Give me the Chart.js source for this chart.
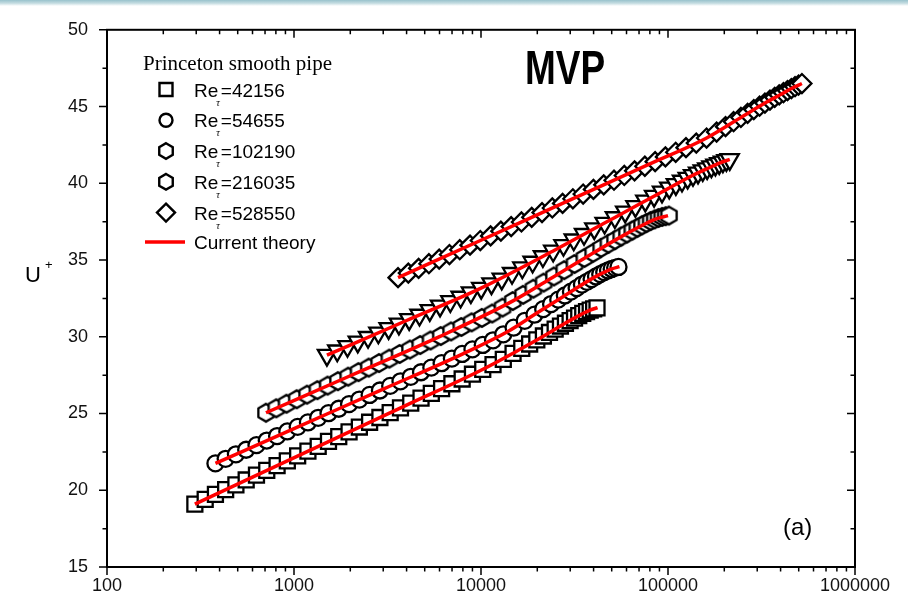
<!DOCTYPE html>
<html>
<head>
<meta charset="utf-8">
<script src="https://cdn.jsdelivr.net/npm/chart.js@4.4.1/dist/chart.umd.min.js"></script>
<style>
  html, body { margin: 0; padding: 0; background: #fff; }
  #wrap { position: relative; width: 908px; height: 608px; }
  #band { position: absolute; left: 0; top: 0; width: 908px; height: 6px;
          background: linear-gradient(to bottom, #98c2cc 0%, #c6dde2 55%, #ffffff 100%); }
  canvas { position: absolute; left: 0; top: 0; }
</style>
</head>
<body>
<div id="wrap">
  <canvas id="chartMvp" width="908" height="608"></canvas>
  <div id="band"></div>
</div>
<script>
// Princeton superpipe, smooth wall: mean velocity U+ against wall distance y+
const reTau = [42156, 54655, 102190, 216035, 528550];

const yPlus1 = [295, 335, 380, 431, 489, 555, 630, 715, 812, 921, 1046, 1187, 1347, 1529, 1735, 1970,
  2236, 2537, 2880, 3268, 3710, 4210, 4779, 5424, 6156, 6987, 7930, 9001, 10216, 11595, 13160,
  14840, 16520, 18200, 19880, 21560, 23240, 24920, 26600, 28280, 29960, 31640, 33320, 35000,
  36680, 38360, 40040, 41720];
const uPlus1 = [19.10, 19.41, 19.73, 20.04, 20.35, 20.67, 20.98, 21.29, 21.61, 21.92, 22.24, 22.55,
  22.86, 23.18, 23.49, 23.80, 24.12, 24.43, 24.74, 25.06, 25.37, 25.68, 26.00, 26.31, 26.62, 26.94,
  27.25, 27.56, 27.88, 28.19, 28.53, 28.92, 29.24, 29.53, 29.80, 30.05, 30.28, 30.50, 30.70, 30.88,
  31.05, 31.22, 31.38, 31.52, 31.64, 31.74, 31.82, 31.88];

const yPlus2 = [380, 431, 489, 555, 630, 715, 812, 921, 1046, 1187, 1347, 1529, 1735, 1970, 2236,
  2537, 2880, 3268, 3710, 4210, 4779, 5424, 6156, 6987, 7930, 9001, 10216, 11595, 13160, 14940,
  17130, 19320, 21510, 23700, 25890, 28080, 30270, 32460, 34650, 36840, 39030, 41220, 43410,
  45600, 47790, 49980, 52170, 54360];
const uPlus2 = [21.75, 22.05, 22.34, 22.64, 22.94, 23.24, 23.53, 23.83, 24.13, 24.42, 24.72, 25.02,
  25.31, 25.61, 25.91, 26.21, 26.50, 26.80, 27.10, 27.39, 27.69, 27.99, 28.28, 28.58, 28.88, 29.18,
  29.47, 29.77, 30.16, 30.59, 31.04, 31.44, 31.80, 32.13, 32.42, 32.69, 32.94, 33.17, 33.40, 33.58,
  33.76, 33.93, 34.08, 34.21, 34.32, 34.42, 34.49, 34.55];

const yPlus3 = [708, 804, 912, 1035, 1175, 1334, 1514, 1718, 1950, 2213, 2512, 2851, 3236, 3673,
  4169, 4732, 5371, 6096, 6919, 7853, 8913, 10116, 11482, 13032, 14791, 16788, 19054, 21626,
  24546, 27860, 31621, 35700, 39800, 43900, 48000, 52100, 56200, 60300, 64400, 68500, 72600,
  76700, 80800, 84900, 89000, 93100, 97200, 101300];
const uPlus3 = [25.05, 25.34, 25.64, 25.93, 26.23, 26.52, 26.82, 27.11, 27.40, 27.70, 27.99, 28.29,
  28.58, 28.88, 29.17, 29.46, 29.76, 30.05, 30.35, 30.64, 30.94, 31.23, 31.52, 31.90, 32.33, 32.73,
  33.13, 33.53, 33.93, 34.34, 34.74, 35.13, 35.47, 35.79, 36.06, 36.30, 36.53, 36.73, 36.92, 37.10,
  37.26, 37.41, 37.54, 37.65, 37.74, 37.81, 37.86, 37.90];

const yPlus4 = [1500, 1703, 1932, 2193, 2489, 2825, 3206, 3639, 4130, 4688, 5321, 6039, 6854, 7779,
  8830, 10022, 11375, 12911, 14654, 16632, 18877, 21425, 24318, 27601, 31327, 35556, 40356, 45804,
  51987, 59005, 66970, 75610, 84250, 92890, 101530, 110170, 118810, 127450, 136090, 144730,
  153370, 162010, 170650, 179290, 187930, 196570, 205210, 213850];
const uPlus4 = [28.80, 29.09, 29.38, 29.67, 29.97, 30.26, 30.55, 30.84, 31.13, 31.42, 31.72, 32.01,
  32.30, 32.59, 32.88, 33.17, 33.46, 33.77, 34.14, 34.50, 34.87, 35.23, 35.59, 35.96, 36.32, 36.68,
  37.05, 37.41, 37.77, 38.14, 38.50, 38.85, 39.16, 39.44, 39.70, 39.93, 40.15, 40.34, 40.52, 40.68,
  40.83, 40.96, 41.08, 41.20, 41.30, 41.40, 41.49, 41.56];

const yPlus5 = [3600, 4086, 4638, 5264, 5975, 6781, 7697, 8736, 9915, 11254, 12773, 14497, 16454,
  18676, 21197, 24059, 27307, 30993, 35177, 39926, 45316, 51433, 58377, 66258, 75203, 85355, 96878,
  109957, 124801, 141649, 160772, 181910, 203050, 224190, 245330, 266470, 287610, 308750, 329890,
  351030, 372170, 393310, 414450, 435590, 456730, 477870, 499010, 520150];
const uPlus5 = [33.85, 34.15, 34.46, 34.76, 35.06, 35.36, 35.67, 35.97, 36.27, 36.57, 36.88, 37.18,
  37.48, 37.78, 38.09, 38.39, 38.69, 38.99, 39.30, 39.60, 39.90, 40.20, 40.51, 40.81, 41.11, 41.41,
  41.72, 42.02, 42.32, 42.62, 42.95, 43.34, 43.69, 44.01, 44.29, 44.56, 44.80, 45.02, 45.23, 45.42,
  45.60, 45.76, 45.90, 46.04, 46.17, 46.29, 46.40, 46.50];

// current theory, one curve per Re_tau
const theoryY1 = [295, 600, 1500, 4000, 10000, 16000, 22000, 28000, 34000, 38000, 42000];
const theoryU1 = [19.10, 20.86, 23.12, 25.55, 27.82, 29.15, 30.10, 30.87, 31.43, 31.72, 31.90];
const theoryY2 = [380, 1000, 3000, 8000, 14000, 20000, 26000, 32000, 38000, 44000, 50000, 55000];
const theoryU2 = [21.75, 24.02, 26.59, 28.89, 30.36, 31.56, 32.43, 33.13, 33.69, 34.11, 34.42, 34.57];
const theoryY3 = [708, 2000, 6000, 15000, 25000, 40000, 55000, 70000, 85000, 100000];
const theoryU3 = [25.05, 27.46, 30.01, 32.37, 33.98, 35.47, 36.46, 37.15, 37.65, 37.89];
const theoryY4 = [1500, 4000, 10000, 25000, 45000, 70000, 100000, 130000, 160000, 190000, 214000];
const theoryU4 = [28.80, 31.06, 33.17, 35.67, 37.36, 38.63, 39.65, 40.40, 40.92, 41.33, 41.56];
const theoryY5 = [3600, 10000, 30000, 80000, 160000, 250000, 330000, 400000, 460000, 520000];
const theoryU5 = [33.85, 36.29, 38.92, 41.26, 42.93, 44.35, 45.23, 45.78, 46.19, 46.50];

const xTicks = [100, 1000, 10000, 100000, 1000000];
const yTicks = [15, 20, 25, 30, 35, 40, 45, 50];

const sansFont = '"Liberation Sans", Arial, sans-serif';
const serifFont = '"Liberation Serif", "Times New Roman", serif';

const pts = (xs, ys) => xs.map((x, i) => ({ x: x, y: ys[i] }));

function hexPath(g, cx, cy, r) {
  g.beginPath();
  for (let k = 0; k < 6; k++) {
    const a = Math.PI / 180 * (60 * k - 90);
    const px = cx + r * Math.cos(a), py = cy + r * Math.sin(a);
    if (k) g.lineTo(px, py); else g.moveTo(px, py);
  }
  g.closePath();
}

function hexagonMarker(r, lw) {
  const c = document.createElement('canvas');
  const s = Math.ceil(2 * r + lw + 2);
  c.width = s; c.height = s;
  const g = c.getContext('2d');
  hexPath(g, s / 2, s / 2, r);
  g.fillStyle = '#fff'; g.fill();
  g.lineWidth = lw; g.strokeStyle = '#000'; g.stroke();
  return c;
}

const markerBase = {
  showLine: false, pointBackgroundColor: '#fff', pointBorderColor: '#000',
  pointBorderWidth: 2.3, pointHoverRadius: 0, order: 1
};
const theoryBase = {
  showLine: true, borderColor: '#ff0000', backgroundColor: '#ff0000', borderWidth: 3.5,
  pointRadius: 0, pointHoverRadius: 0, fill: false, cubicInterpolationMode: 'monotone', order: 0
};

const legendRows = [
  { symbol: 'square', value: reTau[0] },
  { symbol: 'circle', value: reTau[1] },
  { symbol: 'hexagon', value: reTau[2] },
  { symbol: 'hexagon', value: reTau[3] },
  { symbol: 'diamond', value: reTau[4] }
];

function drawSymbol(ctx, kind, x, y) {
  ctx.save();
  ctx.lineWidth = 2.4; ctx.strokeStyle = '#000'; ctx.fillStyle = '#fff';
  ctx.beginPath();
  if (kind === 'square') ctx.rect(x - 6.5, y - 6.5, 13, 13);
  else if (kind === 'circle') ctx.arc(x, y, 6.5, 0, Math.PI * 2);
  else if (kind === 'hexagon') hexPath(ctx, x, y, 7.8);
  else if (kind === 'diamond') {
    ctx.moveTo(x, y - 9); ctx.lineTo(x + 9, y); ctx.lineTo(x, y + 9); ctx.lineTo(x - 9, y); ctx.closePath();
  }
  ctx.fill(); ctx.stroke();
  ctx.restore();
}

// box, inward/outward tick marks and the minor ticks
const frameTicks = {
  id: 'frameTicks',
  afterDraw(chart) {
    const { ctx, chartArea: a, scales: { x, y } } = chart;
    ctx.save();
    ctx.strokeStyle = '#000';
    ctx.lineWidth = 2;
    ctx.strokeRect(a.left, a.top, a.right - a.left, a.bottom - a.top);
    ctx.lineWidth = 1.5;
    ctx.beginPath();
    for (let d = 100; d <= 1000000; d *= 10) {
      for (let m = 1; m <= 9; m++) {
        const v = d * m;
        if (v > 1000000) break;
        const px = x.getPixelForValue(v);
        const len = m === 1 ? 8 : 4.5;
        ctx.moveTo(px, a.bottom); ctx.lineTo(px, a.bottom + len);
        ctx.moveTo(px, a.top); ctx.lineTo(px, a.top + len);
      }
    }
    for (let v = 15; v <= 50; v += 2.5) {
      const py = y.getPixelForValue(v);
      const len = v % 5 === 0 ? 8 : 4.5;
      ctx.moveTo(a.left - len, py); ctx.lineTo(a.left, py);
      ctx.moveTo(a.right - len, py); ctx.lineTo(a.right, py);
    }
    ctx.stroke();
    ctx.restore();
  }
};

// legend block, panel letter, MVP tag and the U+ axis title
const annotations = {
  id: 'annotations',
  afterDraw(chart) {
    const ctx = chart.ctx;
    ctx.save();
    ctx.fillStyle = '#000';
    ctx.textBaseline = 'alphabetic';

    ctx.font = '21px ' + serifFont;
    ctx.fillText('Princeton smooth pipe', 143, 70);

    const rowY = [89.5, 120.3, 151, 181.8, 212.6];
    legendRows.forEach((row, i) => {
      const cy = rowY[i];
      drawSymbol(ctx, row.symbol, 166, cy);
      ctx.font = '19px ' + sansFont;
      ctx.fillText('Re', 194, cy + 7);
      const w = ctx.measureText('Re').width;
      ctx.fillText('=' + row.value, 194 + w + 2.5, cy + 7);
      ctx.font = 'italic 10px ' + serifFont;
      ctx.fillText('\u03c4', 194 + w - 2, cy + 16);
    });

    ctx.strokeStyle = '#ff0000';
    ctx.lineWidth = 3.5;
    ctx.beginPath(); ctx.moveTo(145, 242); ctx.lineTo(185, 242); ctx.stroke();
    ctx.font = '19px ' + sansFont;
    ctx.fillText('Current theory', 194, 249);

    // condensed bold tag
    ctx.save();
    ctx.font = 'bold 49px ' + sansFont;
    const tw = ctx.measureText('MVP').width;
    ctx.translate(525, 83.5);
    ctx.scale(80 / tw, 1);
    ctx.fillText('MVP', 0, 0);
    ctx.restore();

    ctx.font = '24px ' + sansFont;
    ctx.fillText('(a)', 783, 535);

    ctx.font = '22px ' + sansFont;
    ctx.fillText('U', 25, 282);
    ctx.font = '13px ' + sansFont;
    ctx.fillText('+', 45, 269);
    ctx.restore();
  }
};

const ctx = document.getElementById('chartMvp').getContext('2d');
const mvpChart = new Chart(ctx, {
  type: 'scatter',
  data: {
    datasets: [
      Object.assign({ label: 'theory ' + reTau[0], data: pts(theoryY1, theoryU1) }, theoryBase),
      Object.assign({ label: 'theory ' + reTau[1], data: pts(theoryY2, theoryU2) }, theoryBase),
      Object.assign({ label: 'theory ' + reTau[2], data: pts(theoryY3, theoryU3) }, theoryBase),
      Object.assign({ label: 'theory ' + reTau[3], data: pts(theoryY4, theoryU4) }, theoryBase),
      Object.assign({ label: 'theory ' + reTau[4], data: pts(theoryY5, theoryU5) }, theoryBase),
      Object.assign({ label: 'Re ' + reTau[0], data: pts(yPlus1, uPlus1), pointStyle: 'rect', pointRadius: 10.6 }, markerBase),
      Object.assign({ label: 'Re ' + reTau[1], data: pts(yPlus2, uPlus2), pointStyle: 'circle', pointRadius: 8 }, markerBase),
      Object.assign({ label: 'Re ' + reTau[2], data: pts(yPlus3, uPlus3), pointStyle: hexagonMarker(8.8, 2.3), pointRadius: 8.8 }, markerBase),
      Object.assign({ label: 'Re ' + reTau[3], data: pts(yPlus4, uPlus4), pointStyle: 'triangle', pointRotation: 180, pointRadius: 10.5 }, markerBase),
      Object.assign({ label: 'Re ' + reTau[4], data: pts(yPlus5, uPlus5), pointStyle: 'rectRot', pointRadius: 9.5 }, markerBase)
    ]
  },
  options: {
    responsive: false,
    animation: false,
    events: [],
    layout: { padding: { left: 0, top: 18, right: 53, bottom: 0 } },
    plugins: { legend: { display: false }, tooltip: { enabled: false } },
    scales: {
      x: {
        type: 'logarithmic', min: 100, max: 1000000,
        grid: { display: false, drawTicks: false },
        border: { display: false },
        afterBuildTicks: s => { s.ticks = xTicks.map(v => ({ value: v })); },
        afterFit: s => { s.height = 41; },
        ticks: {
          callback: v => String(v), color: '#111', padding: 8,
          maxRotation: 0, autoSkip: false, font: { family: sansFont, size: 18 }
        }
      },
      y: {
        type: 'linear', min: 15, max: 50,
        grid: { display: false, drawTicks: false },
        border: { display: false },
        afterBuildTicks: s => { s.ticks = yTicks.map(v => ({ value: v })); },
        afterFit: s => { s.width = 107; },
        ticks: { color: '#111', padding: 19, font: { family: sansFont, size: 18 } }
      }
    }
  },
  plugins: [frameTicks, annotations]
});
</script>
</body>
</html>
